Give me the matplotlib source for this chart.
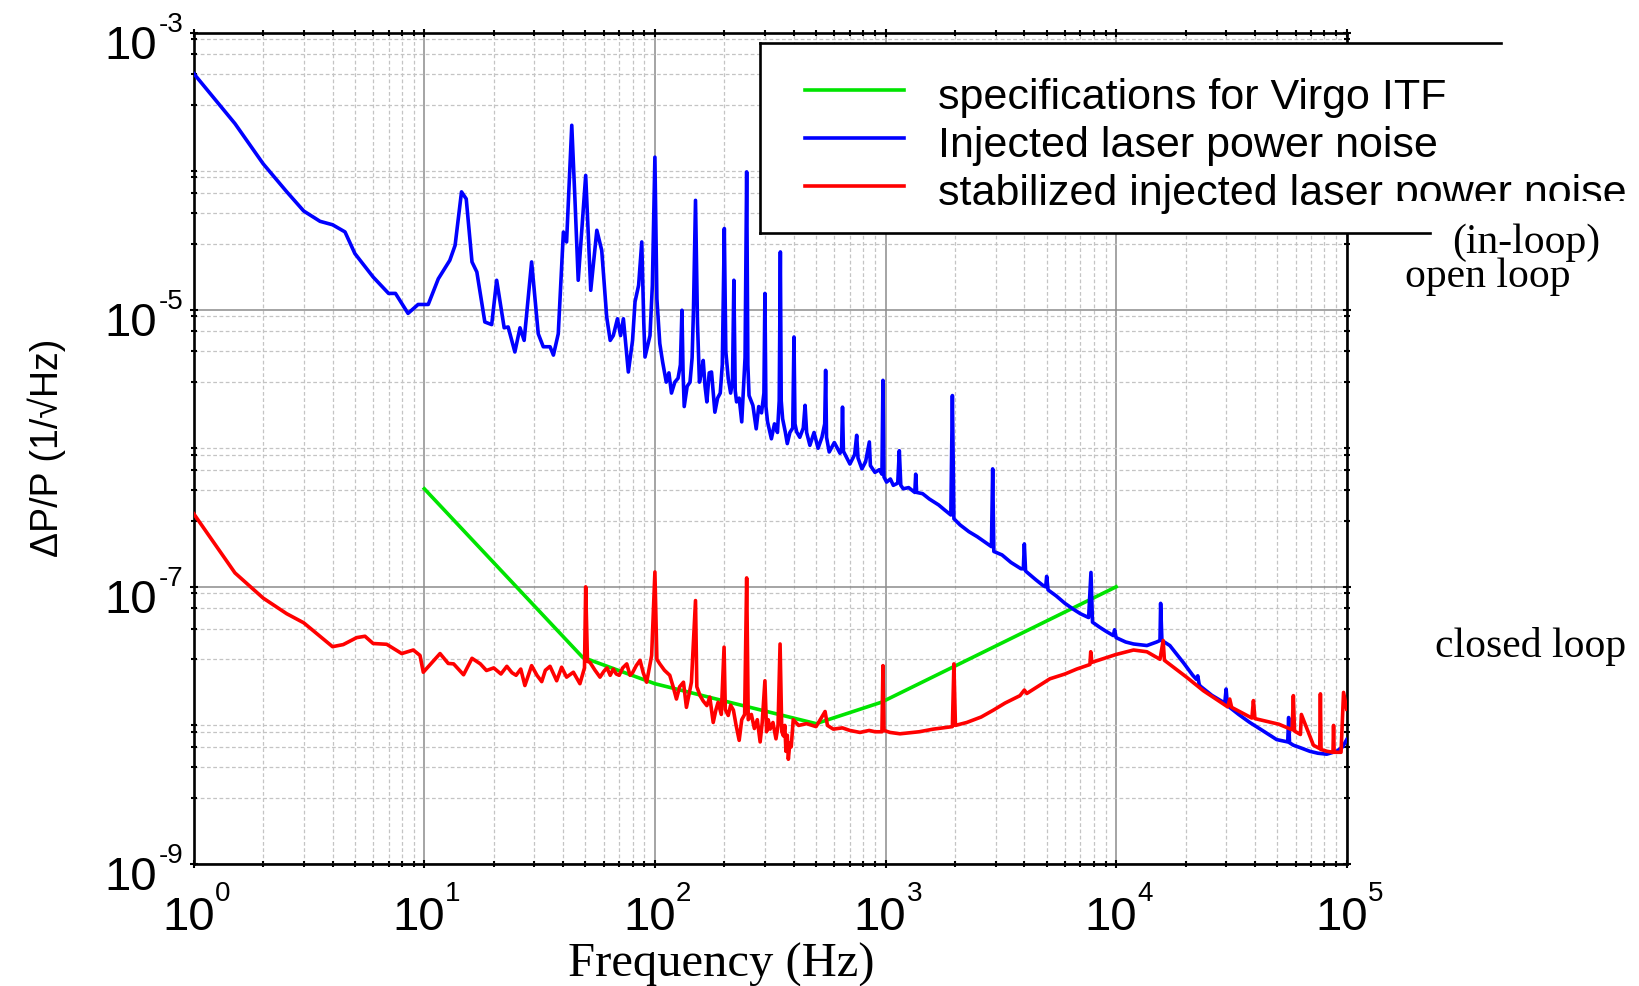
import matplotlib
matplotlib.use("Agg")
import matplotlib.pyplot as plt
from matplotlib.ticker import FixedLocator, NullFormatter
from matplotlib.lines import Line2D
from matplotlib.patches import Rectangle

# ----------------- data -----------------
# Virgo ITF specification
spec_freq = [10, 48.6, 100, 200, 500, 960, 10000]
spec_val = [5.1e-7, 3.1e-8, 2.0e-8, 1.5e-8, 1.03e-8, 1.47e-8, 1.0e-7]

# injected laser power noise, open loop
open_freq = [1, 1.51, 2.0, 2.53, 3.0, 3.53, 4.0, 4.53, 5.0, 6.0, 7.0, 7.5, 8.5, 9.4, 10.4,
             11.5, 12.9, 13.6, 14.5, 15.2, 16.1, 16.9, 18.3, 19.6, 20.6, 22.2, 23.1, 24.7,
             26.0, 27.1, 29.2, 31.2, 32.8, 35.1, 36.3, 38.1, 40.1, 41.4, 43.6, 45.0, 46.5,
             50.1, 52.7, 56.0, 58.8, 61.8, 64, 66, 68.8, 71, 73, 76.7, 80, 82, 85, 87.7,
             89.5, 90.6, 93, 95.2, 97.5, 100, 102, 105, 108, 112, 115, 118, 122, 126, 129,
             131, 132.5, 134, 138, 142, 145, 147, 150, 153, 156, 159, 162, 165, 168, 172,
             176, 182, 187, 192, 196, 200, 203, 208, 213, 217, 220, 223, 226, 232, 238,
             242, 246, 250, 253, 256, 266, 275, 282, 290, 297, 300, 303, 308, 320, 330,
             340, 346, 350, 353, 358, 368, 375, 385, 396, 401, 405, 412, 425, 440, 448,
             455, 470, 490, 510, 530, 545, 550, 555, 570, 600, 635, 645, 651, 657, 680,
             701, 735, 750, 760, 790, 820, 851, 860, 900, 940, 965, 975, 985, 1011, 1050,
             1081, 1130, 1148, 1165, 1194, 1260, 1340, 1352, 1365, 1449, 1550, 1700, 1800,
             1920, 1950, 1980, 2105, 2300, 2500, 2700, 2880, 2916, 2950, 3200, 3500, 3870,
             3960, 4000, 4050, 4500, 4830, 4950, 5000, 5070, 5500, 6000, 6520, 7000, 7600,
             7780, 7900, 8500, 9000, 9720, 9850, 10000, 11000, 11900, 13600, 15000, 15500,
             15600, 15800, 17100, 18500, 19600, 21500, 22300, 22600, 22900, 23100, 26000,
             29600, 30000, 30400, 34000, 38000, 44000, 49700, 55500, 56000, 56500, 58700,
             63000, 69300, 75000, 81900, 90400, 96000, 100000]
open_val = [5.06e-4, 2.2e-4, 1.13e-4, 7.1e-5, 5.15e-5, 4.34e-5, 4.1e-5, 3.64e-5, 2.54e-5,
            1.72e-5, 1.31e-5, 1.31e-5, 9.4e-6, 1.09e-5, 1.09e-5,
            1.67e-5, 2.27e-5, 2.91e-5, 7.08e-5, 6.3e-5, 2.21e-5, 1.87e-5, 8.15e-6, 7.8e-6,
            1.63e-5, 7.4e-6, 7.5e-6, 4.95e-6,
            7.4e-6, 6.0e-6, 2.21e-5, 6.7e-6, 5.4e-6, 5.4e-6, 4.7e-6, 6.7e-6, 3.63e-5,
            3.08e-5, 2.14e-4, 6.3e-5, 1.63e-5,
            9.3e-5, 1.38e-5, 3.74e-5, 2.68e-5, 8.85e-6, 6.0e-6, 6.5e-6, 8.6e-6, 6.5e-6,
            8.6e-6, 3.55e-6, 6.0e-6, 1.14e-5, 1.5e-5, 3.08e-5,
            8.0e-6, 4.55e-6, 5.5e-6, 6.5e-6, 1.5e-5, 1.26e-4, 1.2e-5, 5.7e-6, 4.2e-6,
            3.0e-6, 3.5e-6, 2.5e-6, 3.0e-6, 3.2e-6, 4.0e-6,
            9.9e-6, 3.5e-6, 2.0e-6, 2.8e-6, 3.0e-6, 4.5e-6, 1.0e-5, 6.15e-5, 8.0e-6,
            3.0e-6, 3.5e-6, 4.3e-6, 2.8e-6, 2.16e-6, 3.5e-6,
            3.55e-6, 1.82e-6, 2.3e-6, 2.5e-6, 4.0e-6, 3.85e-5, 5.0e-6, 3.18e-6, 2.5e-6,
            3.0e-6, 1.63e-5, 2.6e-6, 2.16e-6, 2.3e-6, 1.55e-6,
            2.69e-6, 4.5e-6, 9.87e-5, 4.0e-6, 2.4e-6, 2.04e-6, 1.38e-6, 2.0e-6, 1.8e-6,
            2.5e-6, 1.31e-5, 2.0e-6, 1.55e-6, 1.17e-6, 1.5e-6,
            1.3e-6, 2.2e-6, 2.61e-5, 2.2e-6, 1.63e-6, 1.3e-6, 1.08e-6, 1.3e-6, 1.4e-6,
            6.35e-6, 1.5e-6, 1.31e-6, 1.2e-6, 1.4e-6, 2.04e-6,
            1.3e-6, 1.05e-6, 1.3e-6, 1.0e-6, 1.2e-6, 1.5e-6, 3.65e-6, 1.2e-6, 9.4e-7,
            1.1e-6, 9.2e-7, 1.0e-6, 1.98e-6, 9.5e-7, 8.5e-7,
            7.7e-7, 9.0e-7, 1.24e-6, 8.5e-7, 7.1e-7, 8.0e-7, 1.11e-6, 7.5e-7, 6.7e-7,
            7.0e-7, 6.5e-7, 3.09e-6, 6.2e-7, 5.7e-7, 6.0e-7,
            5.4e-7, 5.6e-7, 9.6e-7, 5.4e-7, 5.1e-7, 5.2e-7, 4.8e-7, 6.5e-7, 4.8e-7,
            4.7e-7, 4.3e-7, 3.9e-7, 3.6e-7,
            3.3e-7, 2.4e-6, 3.1e-7, 2.8e-7, 2.5e-7, 2.3e-7, 2.1e-7, 1.95e-7, 7.1e-7,
            1.8e-7, 1.7e-7, 1.5e-7, 1.35e-7,
            1.35e-7, 2.04e-7, 1.3e-7, 1.12e-7, 1.02e-7, 1.0e-7, 1.19e-7, 9.5e-8, 8.6e-8,
            7.6e-8, 6.9e-8, 6.4e-8, 6.0e-8,
            1.27e-7, 5.56e-8, 5.1e-8, 4.8e-8, 4.45e-8, 4.9e-8, 4.3e-8, 4.0e-8, 3.87e-8,
            3.77e-8, 4.0e-8, 4.1e-8,
            7.6e-8, 4.1e-8, 3.77e-8, 3.2e-8, 2.83e-8, 2.3e-8, 2.15e-8, 2.28e-8, 2.0e-8,
            1.93e-8, 1.65e-8,
            1.45e-8, 1.83e-8, 1.39e-8, 1.2e-8, 1.05e-8, 9.0e-9, 7.9e-9, 7.6e-9, 1.14e-8,
            7.5e-9, 7.2e-9,
            6.9e-9, 6.5e-9, 6.3e-9, 6.2e-9, 6.5e-9, 7.0e-9, 7.9e-9]

# stabilized injected laser power noise, closed loop (in-loop)
closed_freq = [1, 1.51, 2.0, 2.53, 3.0, 4.0, 4.45, 5.09, 5.53, 6.0, 6.87, 7.98, 8.96, 9.58,
               9.9, 11.7, 12.7, 13.4, 14.8, 16.1, 17.5, 18.6, 20, 21.5, 22.8, 24, 25, 26.2,
               27.3, 29.2, 30.8, 32.3, 33.5, 35.1, 37.5, 39.4, 41.4, 44.3, 47.3, 49.5, 50.1,
               51, 52.3, 55, 57.8, 60, 62, 64, 66, 68, 70, 72.5, 75.5, 78, 80, 83, 86.2, 89,
               92.1, 96.8, 100, 102, 105, 110, 116, 120, 124, 128, 133, 137, 144, 150, 152,
               157, 162, 168, 173, 179, 184, 188, 194, 199.5, 202, 208, 213, 219, 225, 232,
               238, 245, 250, 254, 262, 270, 278, 286, 292, 300, 305, 310, 316, 325, 335,
               342, 349, 355, 361, 366, 370, 375, 379, 385, 390, 398, 420, 455, 500, 547,
               560, 594, 650, 700, 775, 850, 900, 965, 975, 985, 1047, 1156, 1400, 1611,
               1950, 1980, 2010, 2250, 2600, 2938, 3300, 3830, 4000, 4100, 5164, 6000, 6745,
               7700, 7762, 7850, 10000, 11900, 13600, 15500, 16000, 16200, 20200, 23900,
               30500, 31100, 31700, 38800, 39400, 40000, 50800, 58000, 58700, 59400, 63000,
               63600, 71700, 76400, 76900, 77400, 82300, 87200, 87700, 88200, 94500, 96900,
               100000]
closed_val = [3.37e-7, 1.26e-7, 8.3e-8, 6.4e-8, 5.5e-8, 3.7e-8, 3.83e-8, 4.3e-8, 4.4e-8,
              3.9e-8, 3.85e-8, 3.3e-8, 3.5e-8, 3.2e-8,
              2.42e-8, 3.3e-8, 2.8e-8, 2.78e-8, 2.32e-8, 3.05e-8, 2.78e-8, 2.49e-8, 2.6e-8,
              2.35e-8, 2.67e-8, 2.4e-8, 2.3e-8, 2.55e-8,
              1.94e-8, 2.7e-8, 2.3e-8, 2.07e-8, 2.5e-8, 2.67e-8, 2.1e-8, 2.63e-8, 2.23e-8,
              2.42e-8, 2.0e-8, 2.6e-8, 1.0e-7,
              2.9e-8, 2.85e-8, 2.5e-8, 2.23e-8, 2.45e-8, 2.6e-8, 2.3e-8, 2.55e-8, 2.35e-8,
              2.3e-8, 2.6e-8, 2.78e-8, 2.3e-8, 2.4e-8, 2.7e-8, 2.95e-8, 2.4e-8,
              2.05e-8, 3.2e-8, 1.28e-7, 3.0e-8, 2.78e-8, 2.5e-8, 2.3e-8, 1.9e-8, 1.55e-8,
              1.9e-8, 2.05e-8, 1.35e-8, 2.05e-8, 7.96e-8, 1.9e-8,
              1.64e-8, 1.5e-8, 1.39e-8, 1.6e-8, 1.05e-8, 1.3e-8, 1.47e-8, 1.2e-8, 3.67e-8,
              1.3e-8, 1.18e-8, 1.4e-8, 1.29e-8, 1.0e-8, 7.8e-9,
              1.1e-8, 1.2e-8, 1.16e-7, 1.1e-8, 1.2e-8, 9.5e-9, 1.1e-8, 7.6e-9, 1.05e-8,
              2.1e-8, 9.0e-9, 1.1e-8, 9.4e-9, 1.05e-8, 8.0e-9,
              1.0e-8, 3.87e-8, 9.0e-9, 8.4e-9, 1.0e-8, 6.5e-9, 8.5e-9, 5.7e-9, 7.5e-9,
              7.0e-9, 1.1e-8, 1.0e-8, 1.03e-8, 9.8e-9, 1.26e-8,
              1.0e-8, 9.4e-9, 9.6e-9, 9.2e-9, 8.9e-9, 9.2e-9, 9.0e-9, 9.0e-9, 2.7e-8,
              9.2e-9, 8.9e-9, 8.7e-9, 9.0e-9, 9.4e-9,
              9.8e-9, 2.78e-8, 1.0e-8, 1.05e-8, 1.15e-8, 1.29e-8, 1.45e-8, 1.64e-8,
              1.8e-8, 1.7e-8, 2.17e-8, 2.35e-8, 2.55e-8,
              2.75e-8, 3.4e-8, 2.85e-8, 3.25e-8, 3.5e-8, 3.4e-8, 3.0e-8, 4.1e-8, 2.95e-8,
              2.23e-8, 1.78e-8,
              1.36e-8, 1.55e-8, 1.35e-8, 1.13e-8, 1.51e-8, 1.12e-8, 1.02e-8, 9.3e-9,
              1.64e-8, 9.1e-9, 8.6e-9,
              1.2e-8, 7.2e-9, 6.8e-9, 1.69e-8, 6.7e-9, 6.5e-9, 6.4e-9, 1.0e-8, 6.4e-9,
              6.4e-9, 1.73e-8,
              1.31e-8]

x_exponents = [0, 1, 2, 3, 4, 5]
y_exponents = [-9, -7, -5, -3]
x_major = [10.0 ** e for e in x_exponents]
x_minor = [s * 10.0 ** e for e in range(0, 5) for s in range(2, 10)]
y_major = [10.0 ** e for e in y_exponents]
y_minor = [s * 10.0 ** e for e in range(-9, -3) for s in (1, 3, 5, 7, 9)]

legend_labels = ["specifications for Virgo ITF",
                 "Injected laser power noise",
                 "stabilized injected laser power noise"]
line_colors = ["#00e400", "#0000ff", "#ff0000"]

sans = "Liberation Sans"
serif = "Liberation Serif"

# ----------------- figure -----------------
W, H = 1639, 987
fig = plt.figure(figsize=(W / 100, H / 100), dpi=100)
fig.patch.set_facecolor("white")


def fx(px):
    return px / W


def fy(py):
    return 1 - py / H


ax = fig.add_axes([fx(193.7), fy(865), (1346.7 - 193.7) / W, (865 - 33.5) / H])

ax.plot(spec_freq, spec_val, color=line_colors[0], lw=2.6, zorder=3)
ax.plot(open_freq, open_val, color=line_colors[1], lw=2.6, zorder=4)
ax.plot(closed_freq, closed_val, color=line_colors[2], lw=2.6, zorder=5)

ax.set_xscale("log")
ax.set_yscale("log")
ax.set_xlim(1, 1e5)
ax.set_ylim(1e-9, 1e-3)

ax.xaxis.set_major_locator(FixedLocator(x_major))
ax.xaxis.set_minor_locator(FixedLocator(x_minor))
ax.yaxis.set_major_locator(FixedLocator(y_major))
ax.yaxis.set_minor_locator(FixedLocator(y_minor))
for axis in (ax.xaxis, ax.yaxis):
    axis.set_major_formatter(NullFormatter())
    axis.set_minor_formatter(NullFormatter())

ax.grid(which="major", color="#8c8c8c", lw=1.1, ls="-")
ax.grid(which="minor", color="#c4c4c4", lw=0.9, ls=(0, (3, 2)))
ax.set_axisbelow(True)

for s in ax.spines.values():
    s.set_linewidth(1.9)
ax.tick_params(which="both", direction="inout", top=True, right=True, width=1.5, color="black")
ax.tick_params(which="major", length=6)
ax.tick_params(which="minor", length=5)

# decade labels: big "10" with a raised exponent, hyphen as in the old plotting package
for e, v in zip(x_exponents, x_major):
    ax.annotate("10", xy=(v, 0), xycoords=("data", "axes fraction"), xytext=(-5.5, -65),
                textcoords="offset pixels", ha="center", va="baseline", fontsize=34,
                family=sans, annotation_clip=False)
    ax.annotate(str(e), xy=(v, 0), xycoords=("data", "axes fraction"), xytext=(21, -36),
                textcoords="offset pixels", ha="left", va="baseline", fontsize=20,
                family=sans, annotation_clip=False)
for e, v in zip(y_exponents, y_major):
    ax.annotate("10", xy=(0, v), xycoords=("axes fraction", "data"), xytext=(-37, -25.5),
                textcoords="offset pixels", ha="right", va="baseline", fontsize=34,
                family=sans, annotation_clip=False)
    ax.annotate("-%d" % -e, xy=(0, v), xycoords=("axes fraction", "data"), xytext=(-10.5, 2),
                textcoords="offset pixels", ha="right", va="baseline", fontsize=20,
                family=sans, annotation_clip=False)

# axis titles
fig.text(fx(47), fy(448), "\u0394P/P (1/\u221aHz)", rotation=90, ha="center", va="center",
         fontsize=27, family=sans)
fig.text(fx(721), fy(976.7), "Frequency (Hz)", ha="center", va="baseline",
         fontsize=35, family=serif)

# ----------------- legend box -----------------
fig.add_artist(Rectangle((fx(760), fy(234)), (W - 760) / W, (234 - 44) / H,
                         transform=fig.transFigure, facecolor="white", edgecolor="none", zorder=2))
for xs, ys in [((760, 1501), (44, 44)), ((760, 760), (44, 234)), ((760, 1430), (234, 234))]:
    fig.add_artist(Line2D([fx(x) for x in xs], [fy(y) for y in ys], color="black",
                          lw=1.9, transform=fig.transFigure, zorder=3))

for i, (label, col) in enumerate(zip(legend_labels, line_colors)):
    y_line = 91 + 48 * i
    fig.add_artist(Line2D([fx(805), fx(904)], [fy(y_line), fy(y_line)], color=col, lw=2.6,
                          transform=fig.transFigure, zorder=3))
    fig.text(fx(938), fy(y_line + 18), label, ha="left", va="baseline", fontsize=31,
             family=sans, zorder=3)

# white patch under the in-loop note, cuts off the end of the last legend line
fig.add_artist(Rectangle((fx(1378), fy(226)), (W - 1378) / W, 24 / H,
                         transform=fig.transFigure, facecolor="white", edgecolor="none", zorder=4))

# ----------------- notes -----------------
fig.text(fx(1452), fy(253), "(in-loop)", ha="left", va="baseline", fontsize=30,
         family=serif, zorder=5)
fig.text(fx(1405), fy(287), "open loop", ha="left", va="baseline", fontsize=30,
         family=serif, zorder=5)
fig.text(fx(1435), fy(656.7), "closed loop", ha="left", va="baseline", fontsize=30,
         family=serif, zorder=5)

fig.savefig("out.png", dpi=100)
